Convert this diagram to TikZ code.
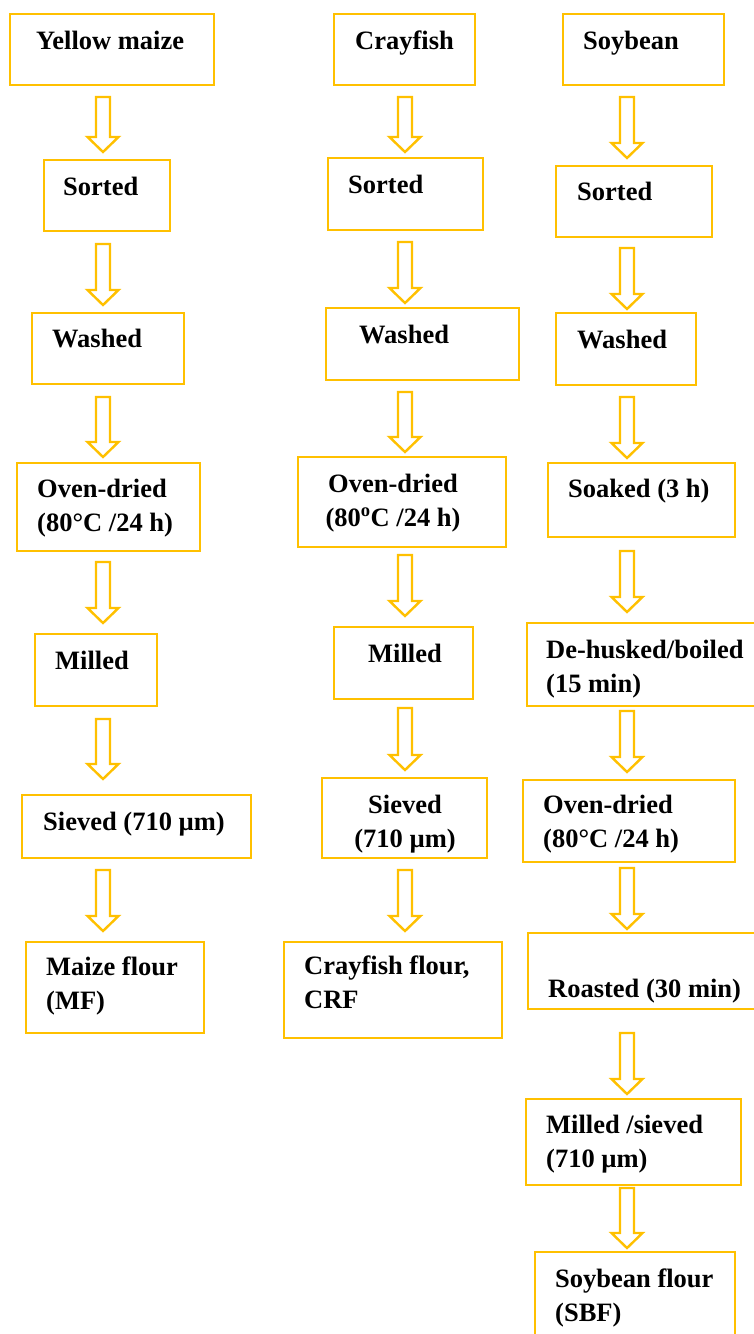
\documentclass[tikz,border=0pt]{standalone}
\usepackage{fontspec}
\setmainfont{Liberation Serif}
\usetikzlibrary{fit,calc}
\definecolor{gold}{RGB}{255,192,0}
\tikzset{
  box/.style = {draw = gold, line width = 2.6pt, inner sep = 0pt, outer sep = 0pt},
  txt/.style = {inner sep = 0pt, font = \fontsize{26.5}{34}\selectfont\bfseries},
  arrowline/.style = {draw = gold, line width = 2.4pt, line join = miter}
}
% hollow block arrow: column x, from box, to box, gap below, gap above
\newcommand\flowarrow[5]{%
  \draw[arrowline] let \p1 = (#2.south), \p2 = (#3.north) in
    (#1pt-7pt, \y1-#4pt) -- (#1pt+7pt, \y1-#4pt) -- (#1pt+7pt, \y2+#5pt+15pt)
    -- (#1pt+15.5pt, \y2+#5pt+15pt) -- (#1pt, \y2+#5pt)
    -- (#1pt-15.5pt, \y2+#5pt+15pt) -- (#1pt-7pt, \y2+#5pt+15pt) -- cycle;}
\begin{document}
\begin{tikzpicture}
      [x = 1pt, y = -1pt]
      \useasboundingbox (0,0) rectangle (753,1334);
      % maize
      \node[box, fit = {(10,14) (214,85)}] (m1) {};
      \node[box, fit = {(44,160) (170,231)}] (m2) {};
      \node[box, fit = {(32,313) (184,384)}] (m3) {};
      \node[box, fit = {(17,463) (200,551)}] (m4) {};
      \node[box, fit = {(35,634) (157,706)}] (m5) {};
      \node[box, fit = {(22,795) (251,858)}] (m6) {};
      \node[box, fit = {(26,942) (204,1033)}] (m7) {};
      \node[txt, anchor = base west] (m1t) at (36,49) {Yellow maize};
      \node[txt, anchor = base west] (m2t) at (63,195) {Sorted};
      \node[txt, anchor = base west] (m3t) at (52,347) {Washed};
      \node[txt, anchor = base west, align = left] (m4t) at (37,531) {Oven-dried\\(80°C /24 h)};
      \node[txt, anchor = base west] (m5t) at (55,669) {Milled};
      \node[txt, anchor = base west] (m6t) at (43,830) {Sieved (710 µm)};
      \node[txt, anchor = base west, align = left] (m7t) at (46,1009) {Maize flour\\(MF)};
      % crayfish
      \node[box, fit = {(334,14) (475,85)}] (c1) {};
      \node[box, fit = {(328,158) (483,230)}] (c2) {};
      \node[box, fit = {(326,308) (519,380)}] (c3) {};
      \node[box, fit = {(298,457) (506,547)}] (c4) {};
      \node[box, fit = {(334,627) (473,699)}] (c5) {};
      \node[box, fit = {(322,778) (487,858)}] (c6) {};
      \node[box, fit = {(284,942) (502,1038)}] (c7) {};
      \node[txt, anchor = base west] (c1t) at (355,49) {Crayfish};
      \node[txt, anchor = base west] (c2t) at (348,193) {Sorted};
      \node[txt, anchor = base west] (c3t) at (359,343) {Washed};
      \node[txt, anchor = base, align = center] (c4t) at (393,526) {Oven-dried\\(80\textsuperscript{o}C /24 h)};
      \node[txt, anchor = base west] (c5t) at (368,662) {Milled};
      \node[txt, anchor = base, align = center] (c6t) at (405,847) {Sieved\\(710 µm)};
      \node[txt, anchor = base west, align = left] (c7t) at (304,1008) {Crayfish flour,\\CRF};
      % soybean
      \node[box, fit = {(563,14) (724,85)}] (s1) {};
      \node[box, fit = {(556,166) (712,237)}] (s2) {};
      \node[box, fit = {(556,313) (696,385)}] (s3) {};
      \node[box, fit = {(548,463) (735,537)}] (s4) {};
      \node[box, fit = {(527,623) (756,706)}] (s5) {};
      \node[box, fit = {(523,780) (735,862)}] (s6) {};
      \node[box, fit = {(528,933) (756,1009)}] (s7) {};
      \node[box, fit = {(526,1099) (741,1185)}] (s8) {};
      \node[box, fit = {(535,1252) (735,1340)}] (s9) {};
      \node[txt, anchor = base west] (s1t) at (583,49) {Soybean};
      \node[txt, anchor = base west] (s2t) at (577,200) {Sorted};
      \node[txt, anchor = base west] (s3t) at (577,348) {Washed};
      \node[txt, anchor = base west] (s4t) at (568,497) {Soaked (3 h)};
      \node[txt, anchor = base west, align = left] (s5t) at (546,692) {De-husked/boiled\\(15 min)};
      \node[txt, anchor = base west, align = left] (s6t) at (543,847) {Oven-dried\\(80°C /24 h)};
      \node[txt, anchor = base west] (s7t) at (548,997) {Roasted (30 min)};
      \node[txt, anchor = base west, align = left] (s8t) at (546,1167) {Milled /sieved\\(710 µm)};
      \node[txt, anchor = base west, align = left] (s9t) at (555,1321) {Soybean flour\\(SBF)};
      % arrows
      \flowarrow{103}{m1}{m2}{12}{8}
      \flowarrow{103}{m2}{m3}{13}{8}
      \flowarrow{103}{m3}{m4}{13}{6}
      \flowarrow{103}{m4}{m5}{11}{11}
      \flowarrow{103}{m5}{m6}{13}{16}
      \flowarrow{103}{m6}{m7}{12}{11}
      \flowarrow{405}{c1}{c2}{12}{6}
      \flowarrow{405}{c2}{c3}{12}{5}
      \flowarrow{405}{c3}{c4}{12}{5}
      \flowarrow{405}{c4}{c5}{8}{11}
      \flowarrow{405}{c5}{c6}{9}{8}
      \flowarrow{405}{c6}{c7}{12}{11}
      \flowarrow{627}{s1}{s2}{12}{8}
      \flowarrow{627}{s2}{s3}{11}{4}
      \flowarrow{627}{s3}{s4}{12}{5}
      \flowarrow{627}{s4}{s5}{14}{11}
      \flowarrow{627}{s5}{s6}{5}{8}
      \flowarrow{627}{s6}{s7}{6}{4}
      \flowarrow{627}{s7}{s8}{24}{5}
      \flowarrow{627}{s8}{s9}{3}{4}
    \end{tikzpicture}
\end{document}
